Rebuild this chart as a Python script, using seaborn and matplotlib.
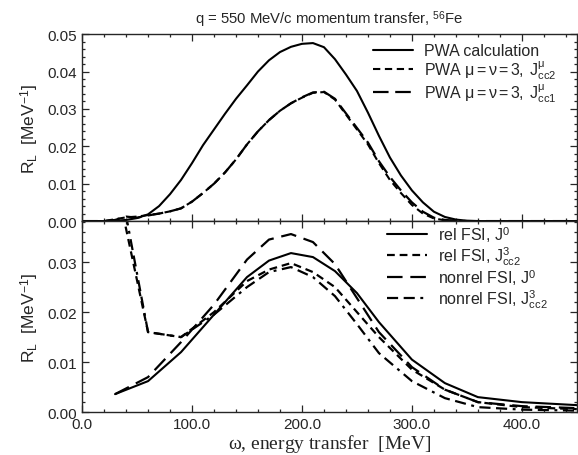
import numpy as np
import pandas as pd
import matplotlib
matplotlib.use("Agg")
import matplotlib.pyplot as plt
from matplotlib.ticker import MultipleLocator, FormatStrFormatter
import seaborn as sns

# ---------------- data ----------------
# top panel (PWA)
w_top = [0, 20, 30, 40, 50, 60, 70, 80, 90, 100, 110, 120, 130, 140, 150, 160, 170, 180,
         190, 200, 210, 220, 230, 240, 250, 260, 270, 280, 290, 300, 310, 320, 330, 340,
         350, 360, 450]
pwa_calc = [0, 0, 0.0001, 0.0003, 0.0008, 0.0018, 0.0040, 0.0072, 0.0110, 0.0155, 0.0203,
            0.0245, 0.0287, 0.0327, 0.0363, 0.0400, 0.0430, 0.0452, 0.0466, 0.0474, 0.0476,
            0.0465, 0.0433, 0.0392, 0.0348, 0.0290, 0.0228, 0.0170, 0.0122, 0.0082, 0.0050,
            0.0025, 0.0011, 0.0004, 0.0001, 0, 0]
pwa_cc2 = [0, 0, 0.0005, 0.0010, 0.0012, 0.0016, 0.0020, 0.0026, 0.0034, 0.0052, 0.0075,
           0.0100, 0.0130, 0.0165, 0.0205, 0.0240, 0.0270, 0.0295, 0.0315, 0.0330, 0.0343,
           0.0345, 0.0325, 0.0285, 0.0245, 0.0205, 0.0155, 0.0110, 0.0075, 0.0043, 0.0020,
           0.0007, 0.0002, 0, 0, 0, 0]
pwa_cc1 = [0, 0, 0.0003, 0.0012, 0.0009, 0.0015, 0.0020, 0.0026, 0.0034, 0.0052, 0.0075,
           0.0100, 0.0130, 0.0165, 0.0205, 0.0240, 0.0270, 0.0295, 0.0315, 0.0331, 0.0344,
           0.0346, 0.0327, 0.0288, 0.0249, 0.0210, 0.0160, 0.0118, 0.0082, 0.0050, 0.0025,
           0.0009, 0.0003, 0.0001, 0, 0, 0]

# bottom panel (FSI)
w_bot = [30, 60, 90, 120, 150, 170, 190, 210, 230, 250, 270, 300, 330, 360, 400, 450]
rel_J0 = [0.0036, 0.0062, 0.0120, 0.0195, 0.0270, 0.0303, 0.0318, 0.0310, 0.0282, 0.0238,
          0.0180, 0.0105, 0.0058, 0.0030, 0.0020, 0.0014]
rel_J3 = [0.047, 0.016, 0.0150, 0.0200, 0.0262, 0.0285, 0.0298, 0.0280, 0.0250, 0.0200,
          0.0150, 0.0085, 0.0045, 0.0020, 0.0010, 0.0006]
nonrel_J0 = [0.0036, 0.0070, 0.0140, 0.0215, 0.0305, 0.0345, 0.0356, 0.0340, 0.0296, 0.0228,
             0.0160, 0.0090, 0.0045, 0.0020, 0.0012, 0.0008]
nonrel_J3 = [0.051, 0.016, 0.0150, 0.0195, 0.0250, 0.0280, 0.0290, 0.0270, 0.0232, 0.0176,
             0.0118, 0.0062, 0.0028, 0.0010, 0.0005, 0.0003]

top_labels = ["PWA calculation",
              r"PWA $\mathregular{\mu{=}\nu{=}3,\ J^{\mu}_{cc2}}$",
              r"PWA $\mathregular{\mu{=}\nu{=}3,\ J^{\mu}_{cc1}}$"]
bot_labels = [r"rel FSI, J$^{\mathregular{0}}$",
              r"rel FSI, J$^{\mathregular{3}}_{\mathregular{cc2}}$",
              r"nonrel FSI, J$^{\mathregular{0}}$",
              r"nonrel FSI, J$^{\mathregular{3}}_{\mathregular{cc2}}$"]
xticks = [0, 100, 200, 300, 400]

# ---------------- style ----------------
sns.set_style("ticks")
plt.rcParams["font.family"] = ["Liberation Sans", "DejaVu Sans"]
plt.rcParams["mathtext.fontset"] = "custom"
plt.rcParams["mathtext.rm"] = "Liberation Serif"
plt.rcParams["mathtext.it"] = "Liberation Serif:italic"
plt.rcParams["xtick.direction"] = "in"
plt.rcParams["ytick.direction"] = "in"

fig = plt.figure(figsize=(5.78, 4.56), dpi=100)
ax1 = fig.add_axes([0.142, 0.513, 0.856, 0.41])
ax2 = fig.add_axes([0.142, 0.094, 0.856, 0.419], sharex=ax1)

styles_top = [dict(linestyle="-", lw=1.5),
              dict(linestyle=(0, (3.5, 2.2)), lw=1.5),
              dict(linestyle=(0, (7, 3)), lw=1.6)]
for vals, lab, st in zip([pwa_calc, pwa_cc2, pwa_cc1], top_labels, styles_top):
    sns.lineplot(x=w_top, y=vals, ax=ax1, color="black", label=lab, sort=False, **st)

styles_bot = [dict(linestyle="-", lw=1.5),
              dict(linestyle=(0, (3.5, 2.2)), lw=1.6),
              dict(linestyle=(0, (7, 3.5)), lw=1.6),
              dict(linestyle=(0, (5, 2.5, 5, 2.5, 1.3, 2.5)), lw=1.6)]
for vals, lab, st in zip([rel_J0, rel_J3, nonrel_J0, nonrel_J3], bot_labels, styles_bot):
    sns.lineplot(x=w_bot, y=vals, ax=ax2, color="black", label=lab, sort=False, **st)

for ax in (ax1, ax2):
    ax.set_xlim(0, 450)
    ax.xaxis.set_major_locator(MultipleLocator(100))
    ax.xaxis.set_minor_locator(MultipleLocator(20))
    ax.yaxis.set_major_locator(MultipleLocator(0.01))
    ax.yaxis.set_minor_locator(MultipleLocator(0.002))
    ax.tick_params(which="both", top=True, right=True, direction="in", width=0.9)
    ax.tick_params(which="major", length=5, labelsize=11)
    ax.tick_params(which="minor", length=2.5)
    for s in ax.spines.values():
        s.set_linewidth(1.0)
    ax.yaxis.set_major_formatter(FormatStrFormatter("%.2f"))

ax1.set_ylim(0, 0.05)
ax2.set_ylim(0, 0.0382)
ax1.tick_params(labelbottom=False)
ax2.set_xticks(xticks)
ax2.set_xticklabels([f"{v:.1f}" for v in xticks])

ylab = r"R$_{\mathregular{L}}$  [MeV$^{\mathregular{-1}}$]"
ax1.set_ylabel(ylab, fontsize=12.5, labelpad=5)
ax2.set_ylabel(ylab, fontsize=12.5, labelpad=5)
ax2.set_xlabel(r"$\mathregular{\omega}$, energy transfer  [MeV]", fontsize=14,
               family="Liberation Serif", labelpad=1)
ax1.set_title(r"q = 550 MeV/c momentum transfer, $^{\mathregular{56}}$Fe", fontsize=10.7, pad=8)

leg1 = ax1.legend(loc="upper left", bbox_to_anchor=(0.588, 0.95), frameon=False,
                  fontsize=11.5, handlelength=2.5, handletextpad=0.7, labelspacing=0.0,
                  borderpad=0, borderaxespad=0)
leg2 = ax2.legend(loc="upper left", bbox_to_anchor=(0.616, 0.985), frameon=False,
                  fontsize=11.5, handlelength=2.5, handletextpad=0.7, labelspacing=0.0,
                  borderpad=0, borderaxespad=0)

fig.savefig("out.png", dpi=100)
